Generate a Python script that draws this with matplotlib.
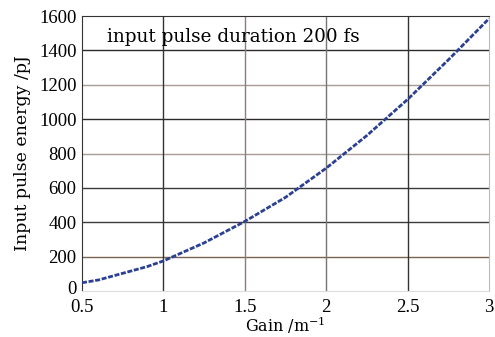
import numpy as np
import matplotlib
matplotlib.use('Agg')
import matplotlib.pyplot as plt
import matplotlib.transforms as mtransforms

# values
gain = [0.5, 0.6, 0.75, 0.9, 1.0, 1.25, 1.5, 1.75, 2.0, 2.25, 2.5, 2.75, 3.0]
energy = [48, 64, 103, 142, 175, 280, 405, 545, 715, 905, 1115, 1345, 1585]
xticks = [0.5, 1, 1.5, 2, 2.5, 3]
xticklabels = ['0.5', '1', '1.5', '2', '2.5', '3']
yticks = [0, 200, 400, 600, 800, 1000, 1200, 1400, 1600]

plt.rcParams['font.family'] = ['Liberation Serif', 'DejaVu Serif']
plt.rcParams['mathtext.fontset'] = 'dejavuserif'

fig = plt.figure(figsize=(4.95, 3.37), dpi=100)
ax = fig.add_axes([0.1657, 0.1365, 0.8223, 0.816])

# grid lines, mixed shades like the original
hcol = {200: '#7a6450', 400: '#3a3a3a', 600: '#3a3a3a', 800: '#a89c94',
        1000: '#2a2a2a', 1200: '#a89c94', 1400: '#2a2a2a'}
for yv, c in hcol.items():
  ax.axhline(yv, color=c, lw=1.0, zorder=1)
vcol = {1: '#333333', 1.5: '#8a7e78', 2: '#7a7470', 2.5: '#333333'}
for xv, c in vcol.items():
  ax.axvline(xv, color=c, lw=1.0, zorder=1)

ax.plot(gain, energy, color='#2b4092', lw=2.0, ls=(0, (1.8, 0.6)), zorder=3)

ax.set_xlim(0.5, 3)
ax.set_ylim(0, 1600)
ax.set_xticks(xticks)
ax.set_xticklabels(xticklabels)
ax.set_yticks(yticks)
ax.tick_params(length=0, labelsize=13.5, pad=4)
ax.tick_params(axis='x', pad=5.5)

# nudge the "0" label up a little so it clears "0.5"
lab0 = ax.get_yticklabels()[0]
lab0.set_transform(lab0.get_transform() +
                   mtransforms.ScaledTranslation(0, 2.5/72, fig.dpi_scale_trans))

ax.spines['left'].set_color('#333333')
ax.spines['top'].set_color('#333333')
ax.spines['bottom'].set_color('#dddddd')
ax.spines['right'].set_color('#bbbbbb')

ax.set_xlabel('Gain /m$^{-1}$', fontsize=11.5, family='DejaVu Serif', labelpad=-1)
ax.set_ylabel('Input pulse energy /pJ', fontsize=12.5, family='DejaVu Serif', labelpad=6)

ax.text(0.653, 1478, 'input pulse duration 200 fs', fontsize=13.2,
        family='DejaVu Serif', va='center', ha='left')

fig.savefig('out.png', dpi=100)
